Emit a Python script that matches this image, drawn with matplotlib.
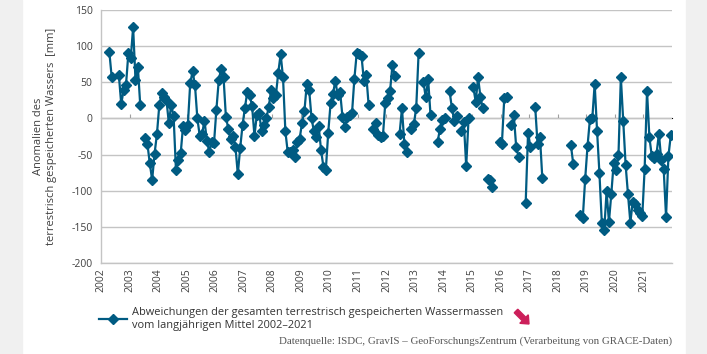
import numpy as np
import matplotlib
matplotlib.use("Agg")
import matplotlib.pyplot as plt
import matplotlib.patches as mpatches
from matplotlib.transforms import IdentityTransform

plt.rcParams['font.family'] = ['Open Sans', 'DejaVu Sans']
plt.rcParams['axes.unicode_minus'] = False

# Monatswerte Jan..Dez je Jahr, None = kein Wert (Lücke)
years = list(range(2002, 2022))
anomaly_mm = [
    None, None, None, 92, 57, None, None, 60, 20, 39, 46, 90,          # 2002
    83, 126, 53, 71, 18, None, -27, -35, -62, -85, -49, -22,           # 2003
    18, 35, 30, 26, -6, 18, 4, -71, -58, -48, -10, -16,                # 2004
    -9, 49, 65, 46, 0, -24, -21, -3, -31, -46, -32, -34,               # 2005
    12, 53, 69, 57, 2, -14, -28, -24, -39, -77, -41, -9,               # 2006
    15, 37, 32, 17, -24, 5, 7, -18, -9, 0, 16, 39,                     # 2007
    28, 32, 63, 89, 57, -18, -47, -46, -44, -53, -32, -28,             # 2008
    -6, 10, 48, 39, 0, -18, -25, -11, -44, -67, -71, -20,              # 2009
    21, 34, 52, 32, 37, 2, -12, 2, 5, 7, 55, 91,                       # 2010
    89, 86, 52, 60, 18, None, -14, -6, -23, -25, -24, 22,              # 2011
    28, 38, 74, 59, None, -21, 14, -35, -47, None, -15, -8,            # 2012
    15, 91, None, 51, 29, 54, 5, None, None, -32, -14, -2,             # 2013
    1, None, 38, 14, -3, 3, None, -17, -5, -66, 0, None,               # 2014
    43, 23, 57, 29, 14, None, -84, -85, -95, None, None, -32,          # 2015
    -35, 28, 30, None, -9, 5, -39, -53, None, None, -117, -20,         # 2016
    -39, None, 16, -36, -25, -83, None, None, None, None, None, None,  # 2017
    None, None, None, None, None, -37, -63, None, None, -134, -138, -84,  # 2018
    -38, -1, 0, 48, -17, -76, -144, -155, -101, -143, -104, -61,       # 2019
    -71, -51, 57, -3, -64, -105, -144, -115, -118, -126, -131, -135,   # 2020
    -70, 38, -26, -52, -55, -49, -21, -58, -70, -136, -52, -23,        # 2021
]
y_ticks = [150, 100, 50, 0, -50, -100, -150, -200]

series_label = ("Abweichungen der gesamten terrestrisch gespeicherten Wassermassen\n"
                "vom langjährigen Mittel 2002–2021")
source_text = "Datenquelle: ISDC, GravIS – GeoForschungsZentrum (Verarbeitung von GRACE-Daten)"

values = np.array(anomaly_mm, dtype=float)
t = years[0] + (np.arange(len(values)) + 0.5) / 12.0

blue = '#005b82'
grid_c = '#c4c4c4'
txt_c = '#404040'

fig = plt.figure(figsize=(7.07, 3.54), dpi=100)
fig.patch.set_facecolor('white')
# graue Randstreifen
fig.add_artist(mpatches.Rectangle((0, 0), 22 / 707, 1, transform=fig.transFigure,
                                  color='#f0f0f0', zorder=-10))
fig.add_artist(mpatches.Rectangle((686 / 707, 0), 1, 1, transform=fig.transFigure,
                                  color='#f0f0f0', zorder=-10))

ax = fig.add_axes([101 / 707, (354 - 263) / 354, 571 / 707, 253 / 354])
line, = ax.plot(t, values, color=blue, lw=1.6, marker='D', ms=5,
                mec=blue, mfc=blue, label=series_label, zorder=3)

ax.set_xlim(years[0], years[-1] + 1)
ax.set_ylim(y_ticks[-1], y_ticks[0])
ax.set_yticks(y_ticks)
ax.set_yticklabels([str(v) for v in y_ticks])
ax.set_xticks(years)
ax.set_xticklabels([str(y) for y in years], rotation=90)
ax.tick_params(axis='x', length=0, pad=4, labelsize=7.5, colors=txt_c)
ax.tick_params(axis='y', length=0, pad=6, labelsize=7.5, colors=txt_c)
ax.grid(axis='y', color=grid_c, lw=1.0)
ax.set_axisbelow(True)
for s in ['top', 'right']:
    ax.spines[s].set_visible(False)
for s in ['left', 'bottom']:
    ax.spines[s].set_color(grid_c)
    ax.spines[s].set_linewidth(1.0)

# Achse bei 0 mit kurzen Teilstrichen
zero_pos = (0 - y_ticks[-1]) / (y_ticks[0] - y_ticks[-1])
sec = ax.secondary_xaxis(zero_pos)
sec.set_xticks(years[1:])
sec.set_xticklabels([])
sec.tick_params(axis='x', direction='out', length=3, width=0.8, color='#a0a0a0')
sec.spines['bottom'].set_color(grid_c)

fig.text(45 / 707, 0.615, "Anomalien des\nterrestrisch gespeicherten Wassers  [mm]",
         rotation=90, ha='center', va='center', multialignment='center',
         fontsize=8, color=txt_c, linespacing=1.35)

fig.legend(handles=[line], loc='upper left', bbox_to_anchor=(99 / 707, 1 - 307 / 354),
           frameon=False, fontsize=7.95, handlelength=2.5, handletextpad=0.45,
           borderpad=0, borderaxespad=0, numpoints=1, labelcolor='#333333')

arrow = mpatches.FancyArrow(516, 354 - 311, 13, -13, width=5, head_width=12,
                            head_length=7, length_includes_head=True,
                            transform=IdentityTransform(), color='#cc1f5a')
fig.add_artist(arrow)

fig.text(672 / 707, 1 - 341 / 354, source_text, ha='right', va='center',
         fontsize=7.8, color='#555555', family=['Liberation Serif', 'DejaVu Serif'])

fig.savefig('out.png', dpi=100)
